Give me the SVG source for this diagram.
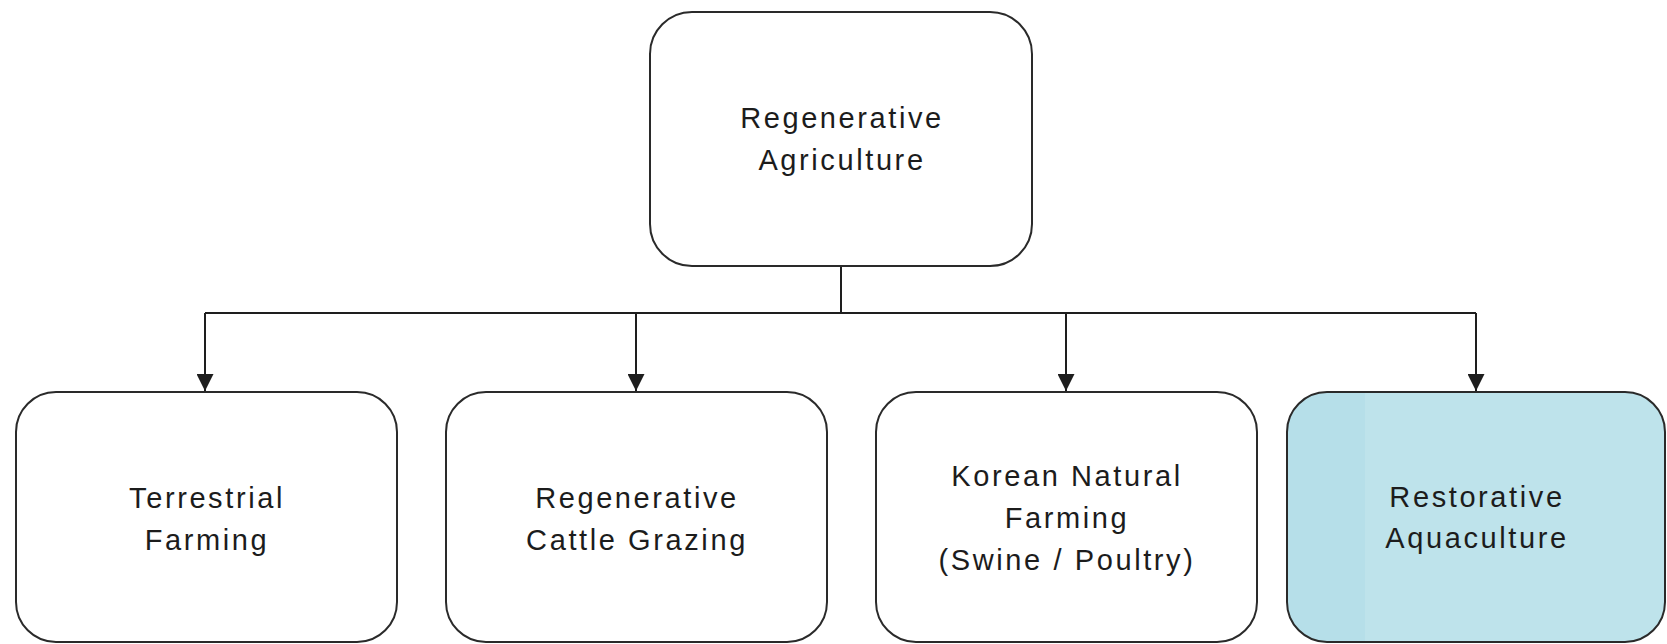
<svg xmlns="http://www.w3.org/2000/svg" width="1667" height="644" viewBox="0 0 1667 644">
  <style>
    .box { fill: #ffffff; stroke: #2a2a2a; stroke-width: 2; }
    .blue { fill: #bee3eb; }
    .lbl { font-family: "Liberation Sans", Arial, sans-serif; font-size: 29px; letter-spacing: 2.6px; fill: #1c1c1c; text-anchor: middle; }
    .conn { fill: none; stroke: #1e1e1e; stroke-width: 2; }
  </style>
  <defs>
    <marker id="arrow" markerWidth="18" markerHeight="17" refX="18" refY="9" orient="auto" markerUnits="userSpaceOnUse" viewBox="0 0 18 18">
      <path d="M0,0 L18,9 L0,18 Z" fill="#1e1e1e"/>
    </marker>
    <clipPath id="c4">
      <rect x="1287" y="392" width="378" height="250" rx="40" ry="40"/>
    </clipPath>
  </defs>
  <rect width="1667" height="644" fill="#ffffff"/>

  <g id="connectors">
    <path class="conn" d="M841,266 V313"/>
    <path class="conn" d="M205,313 H1476"/>
    <path class="conn" d="M205,313 V391" marker-end="url(#arrow)"/>
    <path class="conn" d="M636,313 V391" marker-end="url(#arrow)"/>
    <path class="conn" d="M1066,313 V391" marker-end="url(#arrow)"/>
    <path class="conn" d="M1476,313 V391" marker-end="url(#arrow)"/>
  </g>

  <g id="regenerative-agriculture">
    <rect class="box" x="650" y="12" width="382" height="254" rx="42" ry="42"/>
    <text class="lbl" x="842" y="128">Regenerative</text>
    <text class="lbl" x="842" y="170">Agriculture</text>
  </g>

  <g id="terrestrial-farming">
    <rect class="box" x="16" y="392" width="381" height="250" rx="40" ry="40"/>
    <text class="lbl" x="207" y="508">Terrestrial</text>
    <text class="lbl" x="207" y="550">Farming</text>
  </g>

  <g id="regenerative-cattle-grazing">
    <rect class="box" x="446" y="392" width="381" height="250" rx="40" ry="40"/>
    <text class="lbl" x="637" y="508">Regenerative</text>
    <text class="lbl" x="637" y="550">Cattle Grazing</text>
  </g>

  <g id="korean-natural-farming">
    <rect class="box" x="876" y="392" width="381" height="250" rx="40" ry="40"/>
    <text class="lbl" x="1067" y="486">Korean Natural</text>
    <text class="lbl" x="1067" y="528">Farming</text>
    <text class="lbl" x="1067" y="570">(Swine / Poultry)</text>
  </g>

  <g id="restorative-aquaculture">
    <rect class="blue" x="1287" y="392" width="378" height="250" rx="40" ry="40"/>
    <rect x="1287" y="392" width="78" height="250" fill="#b6dfe9" clip-path="url(#c4)"/>
    <rect x="1287" y="392" width="378" height="250" rx="40" ry="40" fill="none" stroke="#2a2a2a" stroke-width="2"/>
    <text class="lbl" x="1477" y="507">Restorative</text>
    <text class="lbl" x="1477" y="548">Aquaculture</text>
  </g>
</svg>
